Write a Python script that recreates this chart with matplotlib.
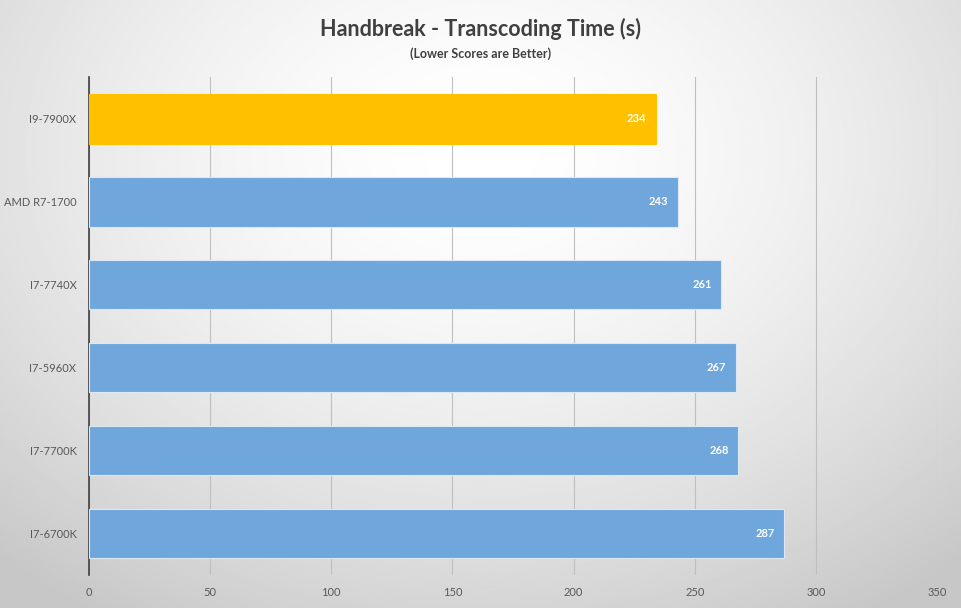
import matplotlib.pyplot as plt
import numpy as np

cpus = ['I9-7900X', 'AMD R7-1700', 'I7-7740X', 'I7-5960X', 'I7-7700K', 'I7-6700K']
times = [234, 243, 261, 267, 268, 287]
highlight = 'I9-7900X'
x_ticks = [0, 50, 100, 150, 200, 250, 300, 350]

plt.rcParams['font.family'] = ['Lato', 'DejaVu Sans']

fig = plt.figure(figsize=(9.61, 6.08), dpi=100)

# background: soft radial gradient, white in the middle, grey at the edges
bg = fig.add_axes([0, 0, 1, 1], zorder=0)
yy, xx = np.mgrid[0:1:300j, 0:1:480j]
r = np.sqrt(((xx - 0.5) / 0.75) ** 2 + ((yy - 0.25) / 0.9) ** 2)
shade = np.clip(1.0 - 0.22 * r ** 1.6, 0.78, 1.0)
bg.imshow(shade, cmap='gray', vmin=0, vmax=1, aspect='auto', extent=[0, 1, 0, 1], origin='upper')
bg.axis('off')

ax = fig.add_axes([0.0926, 0.0543, 0.8825, 0.8188], zorder=1)
ax.patch.set_alpha(0)

colors = ['#FFC000' if c == highlight else '#6FA6DB' for c in cpus]
edges = ['#FFC000' if c == highlight else '#DCE8F4' for c in cpus]
pos = np.arange(len(cpus))
bars = ax.barh(pos, times, height=0.6, color=colors, edgecolor=edges, linewidth=0.8, zorder=3)

for b, v in zip(bars, times):
    ax.annotate(str(v), (v, b.get_y() + b.get_height() / 2), xytext=(-7, 0),
                textcoords='offset points', ha='right', va='center',
                color='white', fontsize=8, fontweight='bold', zorder=4)

ax.set_ylim(len(cpus) - 0.5, -0.5)
ax.set_yticks(pos)
ax.set_yticklabels(cpus)
ax.set_xlim(0, 350)
ax.set_xticks(x_ticks)
ax.tick_params(axis='both', length=0, labelsize=8, labelcolor='#595959')
ax.tick_params(axis='y', pad=9)
ax.tick_params(axis='x', pad=9)
ax.grid(axis='x', color='#BFBFBF', linewidth=0.8, zorder=0)
ax.set_axisbelow(True)

for s in ['top', 'right', 'bottom']:
    ax.spines[s].set_visible(False)
ax.spines['left'].set_color('#404040')
ax.spines['left'].set_linewidth(1.2)

fig.text(0.5, 0.953, 'Handbreak - Transcoding Time (s)', ha='center', va='center',
         fontsize=15.5, fontweight='bold', color='#404040')
fig.text(0.5, 0.912, '(Lower Scores are Better)', ha='center', va='center',
         fontsize=9, fontweight='bold', color='#404040')

fig.savefig('out.png', dpi=100)
